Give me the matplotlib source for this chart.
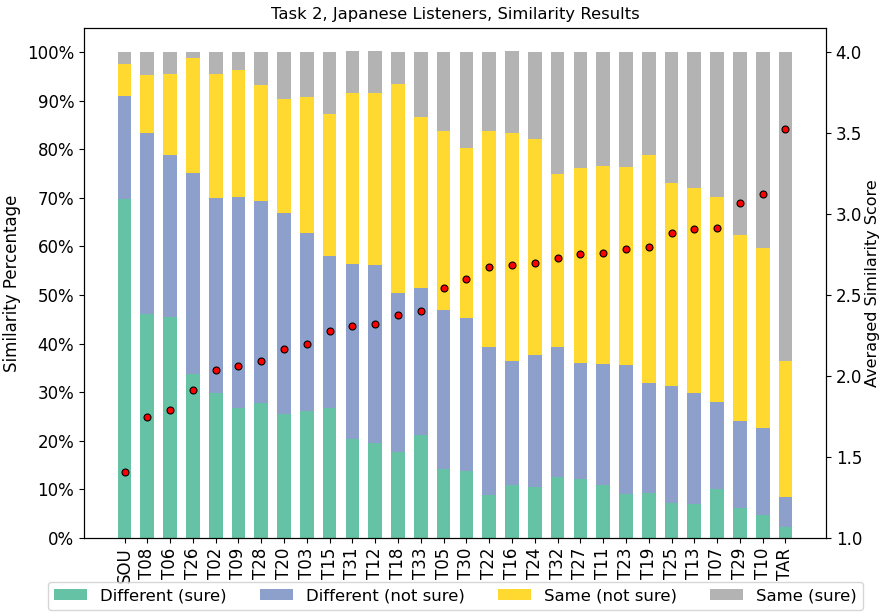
import numpy as np
import matplotlib
matplotlib.use("Agg")
import matplotlib.pyplot as plt

# systems in the order shown
systems = ["SOU", "T08", "T06", "T26", "T02", "T09", "T28", "T20", "T03", "T15",
           "T31", "T12", "T18", "T33", "T05", "T30", "T22", "T16", "T24", "T32",
           "T27", "T11", "T23", "T19", "T25", "T13", "T07", "T29", "T10", "TAR"]

# percentage of answers per category
diff_sure = [69.8, 46.1, 45.4, 33.8, 29.8, 26.8, 27.8, 25.6, 26.1, 26.8,
             20.4, 19.6, 17.7, 21.1, 14.1, 13.8, 8.9, 10.8, 10.4, 12.5,
             12.1, 10.8, 9.0, 9.3, 7.3, 6.9, 10.0, 6.1, 4.8, 2.2]
diff_not_sure = [21.2, 37.3, 33.5, 41.2, 40.1, 43.3, 41.5, 41.2, 36.6, 31.2,
                 36.0, 36.6, 32.7, 30.4, 32.9, 31.5, 30.3, 25.7, 27.2, 26.7,
                 24.0, 25.1, 26.5, 22.5, 23.9, 22.9, 17.9, 17.9, 17.8, 6.3]
same_not_sure = [6.5, 11.9, 16.6, 23.8, 25.6, 26.2, 23.9, 23.6, 28.1, 29.3,
                 35.2, 35.4, 43.0, 35.2, 36.8, 34.9, 44.6, 46.9, 44.4, 35.7,
                 40.0, 40.7, 40.9, 47.1, 41.8, 42.2, 42.2, 38.4, 37.1, 27.9]
same_sure = [2.5, 4.7, 4.5, 1.2, 4.5, 3.7, 6.8, 9.6, 9.2, 12.7,
             8.6, 8.6, 6.6, 13.3, 16.2, 19.8, 16.2, 16.8, 18.0, 25.1,
             23.9, 23.4, 23.6, 21.1, 27.0, 28.0, 29.9, 37.6, 40.3, 63.6]

# averaged similarity score (right axis)
avg_score = [1.41, 1.745, 1.79, 1.915, 2.04, 2.06, 2.09, 2.165, 2.20, 2.275,
             2.31, 2.32, 2.377, 2.40, 2.545, 2.598, 2.674, 2.686, 2.695, 2.727,
             2.754, 2.762, 2.785, 2.795, 2.88, 2.908, 2.914, 3.07, 3.123, 3.522]

labels = ["Different (sure)", "Different (not sure)", "Same (not sure)", "Same (sure)"]
colors = ["#66c2a5", "#8da0cb", "#ffd92f", "#b3b3b3"]

fig = plt.figure(figsize=(8.81, 6.14), dpi=100)
ax = fig.add_axes([0.0953, 0.1238, 0.8423, 0.8311])

x = np.arange(len(systems))
series = [diff_sure, diff_not_sure, same_not_sure, same_sure]
bottom = np.zeros(len(systems))
handles = []
for vals, col, lab in zip(series, colors, labels):
    v = np.array(vals) / 100.0
    h = ax.bar(x, v, 0.6, bottom=bottom, color=col, label=lab)
    handles.append(h)
    bottom += v

ax.set_ylim(0, 1.05)
ax.set_yticks(np.arange(0, 1.01, 0.1))
ax.set_yticklabels([f"{int(round(t * 100))}%" for t in np.arange(0, 1.01, 0.1)])
ax.set_xticks(x)
ax.set_xticklabels(systems, rotation=90)
ax.tick_params(labelsize=12)
ax.set_ylabel("Similarity Percentage", fontsize=12)
ax.set_title("Task 2, Japanese Listeners, Similarity Results", fontsize=11.8)

ax2 = ax.twinx()
ax2.plot(x, avg_score, "o", color="red", markeredgecolor="black",
         markeredgewidth=0.8, markersize=5)
ax2.set_ylim(1.0, 4.15)
ax2.set_yticks([1.0, 1.5, 2.0, 2.5, 3.0, 3.5, 4.0])
ax2.tick_params(labelsize=12)
ax2.set_ylabel("Averaged Similarity Score", fontsize=11.5, labelpad=2)

fig.legend(handles=handles, loc="upper center", bbox_to_anchor=(0.517, 0.066),
           ncol=4, fontsize=11.85)

fig.savefig("out.png", dpi=100)
